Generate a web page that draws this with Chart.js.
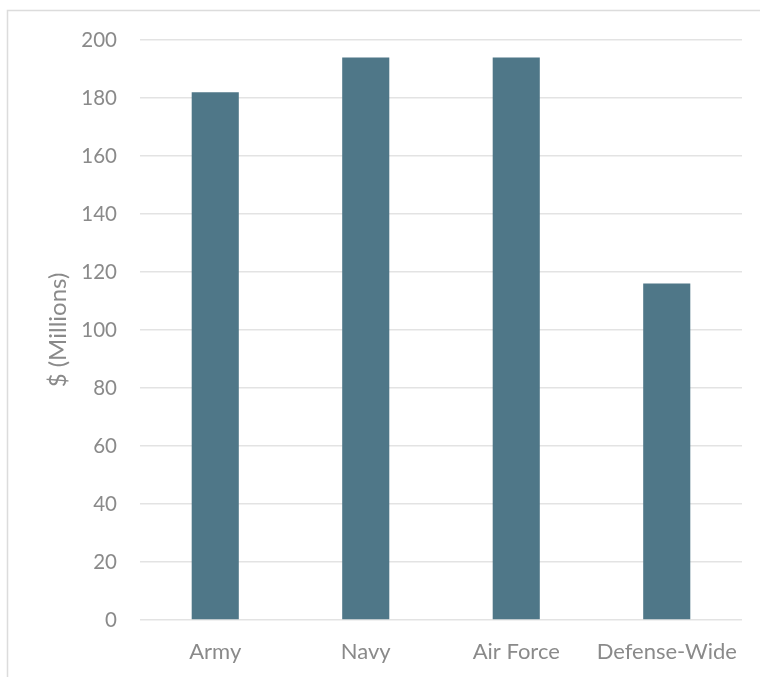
<!DOCTYPE html>
<html>
<head>
<meta charset="utf-8">
<script src="https://cdn.jsdelivr.net/npm/chart.js@4"></script>
<style>
  html, body { margin: 0; padding: 0; background: #ffffff; }
  #wrap { position: relative; width: 760px; height: 677px; }
</style>
</head>
<body>
<div id="wrap"><canvas id="chart" width="760" height="677"></canvas></div>
<script>
const categories = ['Army', 'Navy', 'Air Force', 'Defense-Wide'];
const funding = [182, 194, 194, 116];
const yTicks = [0, 20, 40, 60, 80, 100, 120, 140, 160, 180, 200];

const textColor = '#8a8a8a';
const gridColor = '#e3e3e3';
const barColor = '#4f7788';

// Frame drawn around the chart, open on the right and bottom edges
const framePlugin = {
  id: 'frame',
  beforeDraw(chart) {
    const ctx = chart.ctx;
    ctx.save();
    ctx.fillStyle = '#ffffff';
    ctx.fillRect(0, 0, chart.width, chart.height);
    ctx.strokeStyle = '#dcdcdc';
    ctx.lineWidth = 1.5;
    ctx.beginPath();
    ctx.moveTo(7.5, chart.height + 2);
    ctx.lineTo(7.5, 10.5);
    ctx.lineTo(chart.width + 2, 10.5);
    ctx.stroke();
    ctx.restore();
  }
};

new Chart(document.getElementById('chart'), {
  type: 'bar',
  data: {
    labels: categories,
    datasets: [{
      label: '$ (Millions)',
      data: funding,
      backgroundColor: barColor,
      borderWidth: 0,
      categoryPercentage: 1.0,
      barPercentage: 0.313
    }]
  },
  options: {
    responsive: false,
    animation: false,
    devicePixelRatio: 1,
    layout: { padding: { top: 40, left: 0, right: 18, bottom: 0 } },
    plugins: {
      legend: { display: false },
      tooltip: { enabled: false }
    },
    scales: {
      x: {
        grid: { display: false, drawTicks: false },
        border: { display: false },
        ticks: {
          color: textColor,
          font: { family: 'Lato', size: 22 },
          padding: 19,
          maxRotation: 0,
          autoSkip: false
        },
        afterFit(scale) { scale.height = 57; }
      },
      y: {
        min: 0,
        max: 200,
        afterBuildTicks(scale) { scale.ticks = yTicks.map(v => ({ value: v })); },
        grid: { color: gridColor, lineWidth: 1.5, drawTicks: false },
        border: { display: false },
        ticks: {
          color: textColor,
          font: { family: 'Lato', size: 20.5 },
          padding: 23
        },
        title: {
          display: true,
          text: '$ (Millions)',
          color: textColor,
          font: { family: 'Lato', size: 24 },
          padding: { top: 44, bottom: 0 }
        },
        afterFit(scale) { scale.width = 140; }
      }
    }
  },
  plugins: [framePlugin]
});
</script>
</body>
</html>
